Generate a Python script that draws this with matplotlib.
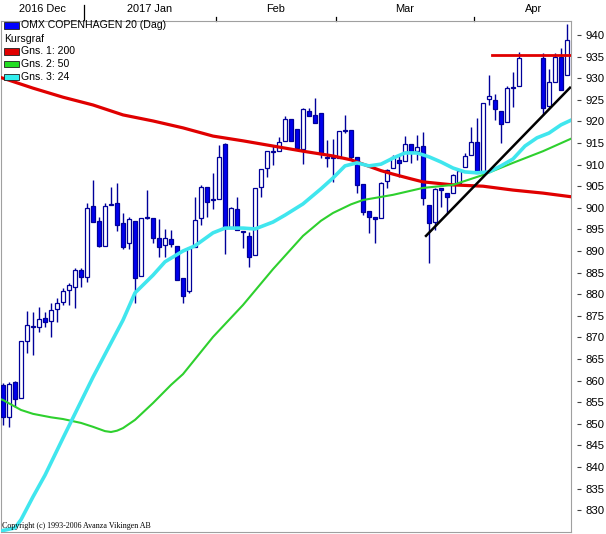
import numpy as np
import matplotlib
matplotlib.use("Agg")
import matplotlib.pyplot as plt
from matplotlib.patches import Rectangle
from matplotlib.lines import Line2D
import matplotlib.transforms as mtransforms

# daily candles, one slot per weekday; None = exchange closed (Easter)
opens = [859.0, 851.6, 859.7, 856.0, 869.2, 872.4, 872.4, 874.5, 873.8, 876.6,
         878.2, 881.0, 881.7, 885.6, 884.0, 900.4, 896.9, 891.2, 900.6, 901.1,
         896.5, 891.9, 896.9, 884.2, 897.6, 897.6, 893.0, 891.4, 892.8, 891.2,
         883.8, 880.7, 890.9, 897.6, 904.8, 901.8, 902.0, 914.8, 895.6, 899.7,
         894.4, 893.5, 889.1, 904.8, 909.2, 912.9, 913.1, 915.5, 920.6, 918.2,
         913.6, 922.4, 921.5, 922.0, 911.5, 911.5, 911.5, 917.7, 918.0, 911.8,
         905.5, 899.3, 897.9, 897.6, 906.2, 909.2, 911.1, 910.8, 914.8, 913.1,
         914.3, 900.6, 896.7, 904.6, 903.4, 903.4, 905.8, 909.4, 912.2, 915.2,
         908.1, 925.2, 925.0, 922.4, 919.9, 927.7, 928.2, None, None, None,
         934.7, 923.6, 929.1, 934.9, 930.7]
highs = [859.4, 859.7, 859.9, 869.2, 876.1, 875.9, 877.0, 875.9, 878.0, 879.1,
         881.4, 882.6, 886.1, 886.1, 901.1, 906.4, 897.9, 901.1, 904.8, 905.7,
         898.8, 897.9, 896.9, 897.6, 904.1, 897.6, 897.4, 895.1, 894.9, 891.2,
         883.8, 890.9, 902.5, 905.3, 904.8, 908.1, 914.5, 915.0, 900.2, 902.5,
         894.6, 894.4, 904.6, 909.0, 913.1, 914.5, 916.4, 921.3, 920.6, 918.2,
         923.1, 923.1, 925.4, 922.0, 915.7, 916.0, 917.8, 921.5, 918.0, 911.8,
         905.5, 899.3, 897.9, 906.0, 909.0, 912.2, 912.2, 916.6, 914.8, 916.9,
         917.5, 900.6, 904.6, 904.6, 903.4, 907.8, 908.8, 912.7, 918.7, 920.8,
         924.3, 930.7, 926.3, 922.4, 928.2, 931.4, 936.1, None, None, None,
         935.8, 932.1, 935.8, 937.0, 942.5]
lows = [849.7, 849.3, 853.9, 856.0, 866.4, 865.9, 871.2, 872.4, 870.1, 873.6,
        877.5, 877.5, 876.8, 881.7, 882.8, 896.7, 890.9, 891.2, 900.6, 894.6,
        890.5, 890.5, 878.0, 884.2, 897.4, 891.9, 888.6, 888.6, 890.9, 883.3,
        878.0, 880.3, 890.9, 896.0, 897.9, 899.7, 902.0, 889.3, 895.6, 894.9,
        890.7, 886.3, 889.1, 902.5, 907.1, 909.9, 913.1, 915.5, 915.5, 913.4,
        910.1, 921.3, 919.6, 911.5, 909.4, 906.0, 911.5, 917.3, 911.1, 903.4,
        898.3, 894.2, 891.9, 897.6, 904.6, 909.2, 907.1, 910.8, 910.4, 911.1,
        900.6, 887.2, 894.9, 900.2, 898.8, 903.4, 905.6, 909.4, 912.2, 908.1,
        908.1, 923.8, 920.3, 915.0, 919.9, 923.3, 928.2, None, None, None,
        921.5, 923.3, 929.1, 927.3, 930.7]
closes = [851.6, 859.2, 855.7, 869.2, 872.9, 872.6, 874.3, 873.6, 876.3, 878.0,
          880.7, 882.1, 885.6, 884.0, 900.0, 896.7, 891.2, 900.4, 900.9, 896.0,
          890.9, 897.4, 883.8, 897.6, 897.9, 893.0, 890.9, 893.0, 891.6, 883.3,
          879.6, 890.7, 897.2, 904.8, 901.3, 902.0, 911.8, 895.3, 900.0, 894.9,
          894.6, 888.6, 904.6, 909.0, 913.1, 913.1, 915.2, 920.6, 915.5, 913.8,
          922.9, 921.3, 919.6, 912.5, 911.7, 911.7, 917.8, 918.0, 911.8, 905.3,
          899.0, 897.9, 897.4, 905.7, 908.8, 911.8, 910.4, 914.8, 912.9, 914.1,
          902.3, 896.5, 904.4, 904.1, 902.5, 907.6, 908.6, 912.0, 915.2, 908.1,
          924.3, 925.9, 922.9, 919.4, 927.7, 928.0, 934.7, None, None, None,
          923.1, 929.1, 934.9, 927.3, 938.8]

ma200_x = [-1, 0, 5, 10, 15, 20, 25, 30, 35, 40, 45, 50, 55, 58, 60, 63, 65,
           68, 70, 75, 80, 85, 90, 95]
ma200_y = [930.4, 930.0, 927.7, 925.6, 923.8, 921.5, 920.1, 918.5, 916.6, 915.5,
           914.3, 913.1, 912.0, 911.1, 910.1, 908.6, 907.8, 906.7, 906.0, 905.3,
           905.0, 904.1, 903.4, 902.5]
ma50_x = [-1, 0, 3, 5, 8, 10, 13, 15, 16, 17, 18, 19, 20, 22, 25, 28, 30, 35,
          40, 45, 50, 53, 55, 58, 60, 65, 70, 75, 80, 85, 90, 95]
ma50_y = [856.0, 855.5, 853.2, 852.3, 851.5, 851.1, 850.2, 849.3, 848.8, 848.3,
          848.1, 848.4, 849.0, 850.9, 854.8, 859.0, 861.5, 870.1, 877.5, 885.8,
          893.5, 897.0, 898.8, 900.8, 901.8, 903.0, 904.6, 905.3, 907.6, 910.4,
          913.1, 916.2]
ma24_x = [-1, 0, 2, 3, 5, 7, 10, 15, 20, 22, 25, 27, 30, 32, 35, 37, 40, 42,
          45, 47, 50, 53, 55, 57, 59, 61, 63, 65, 67, 69, 71, 73, 75, 77, 79,
          81, 83, 85, 87, 89, 91, 93, 95]
ma24_y = [824.5, 825.3, 825.9, 827.8, 833.1, 838.1, 846.7, 860.8, 874.0, 880.3,
          884.4, 887.5, 890.0, 891.2, 894.2, 895.3, 895.3, 895.1, 896.7, 898.3,
          900.9, 904.4, 906.9, 909.7, 910.4, 909.7, 910.1, 911.5, 912.7, 912.7,
          911.8, 910.6, 909.2, 908.3, 908.1, 908.3, 909.7, 911.3, 914.3, 916.2,
          917.3, 919.2, 920.5]

# drawn lines: support trend and resistance
trend_x = [70.5, 94.5]
trend_y = [893.5, 927.8]
resist_x = [81.5, 94.5]
resist_y = [935.4, 935.4]

month_names = ["2016 Dec", "2017 Jan", "Feb", "Mar", "Apr"]
month_edges = [-0.5, 13.5, 35.5, 55.5, 78.5, 98.5]
yticks = list(range(830, 945, 5))

W, H = 606, 534
fig = plt.figure(figsize=(W / 100, H / 100), dpi=100)
ax = fig.add_axes([1 / W, 2 / H, 570 / W, 511 / H])

edge = "#000099"
fill = "#0000ee"
for i in range(len(opens)):
    o, h, l, c = opens[i], highs[i], lows[i], closes[i]
    if o is None:
        continue
    ax.vlines(i, l, h, color=edge, lw=1.0, zorder=2)
    face = fill if c < o else "white"
    ax.bar(i, abs(c - o), bottom=min(o, c), width=0.72, color=face,
           edgecolor=edge, linewidth=0.9, zorder=3)

ax.plot(ma200_x, ma200_y, color="#e00000", lw=2.3, zorder=4,
        solid_joinstyle="round")
ax.plot(ma50_x, ma50_y, color="#2ed02e", lw=1.5, zorder=4,
        solid_joinstyle="round")
ax.plot(ma24_x, ma24_y, color="#40e6ee", lw=2.6, zorder=4,
        solid_joinstyle="round")
ax.plot(resist_x, resist_y, color="#e00000", lw=2.0, zorder=5)
ax.plot(trend_x, trend_y, color="black", lw=1.8, zorder=6)

ax.set_xlim(-1 / 3, 94 + 2 / 3)
ax.set_ylim(824.95, 943.24)
ax.set_xticks([])

gray = "#a0a0a0"
for s in ["left", "bottom", "top"]:
    ax.spines[s].set_color(gray)
    ax.spines[s].set_linewidth(0.8)
ax.spines["right"].set_position(("outward", 4.3))
ax.spines["right"].set_visible(False)
ax.add_line(Line2D([1, 1], [0, 1], transform=ax.transAxes, color=gray,
                   lw=0.8, clip_on=False))
ax.yaxis.tick_right()
ax.set_yticks(yticks)
ax.tick_params(axis="y", length=3, width=0.8, color="#404040", pad=2.8,
               labelsize=8.2)
for lab in ax.get_yticklabels():
    lab.set_fontfamily("Liberation Sans")

# month strip above the plot
blend = mtransforms.blended_transform_factory(ax.transData, ax.transAxes)
for k, b in enumerate(month_edges[1:5]):
    top = 1 + (16 if k == 0 else 4) / 511
    ax.add_line(Line2D([b, b], [1, top], transform=blend, color="black",
                       lw=0.9, clip_on=False))
for k, name in enumerate(month_names):
    cx = (month_edges[k] + month_edges[k + 1]) / 2
    ax.text(cx, 1 + 12.5 / 511, name, transform=blend, ha="center", va="center",
            fontsize=7.9, family="Liberation Sans", clip_on=False)


def fx(x):
    return x / W


def fy(y):
    return 1 - y / H


legend = [("OMX COPENHAGEN 20 (Dag)", "#0000ff", 25.5),
          ("Kursgraf", None, 39),
          ("Gns. 1: 200", "#e00000", 51.5),
          ("Gns. 2: 50", "#22dd22", 64),
          ("Gns. 3: 24", "#33eeee", 77)]
for label, col, yy in legend:
    if col is None:
        fig.text(fx(4), fy(yy), label, ha="left", va="center", fontsize=7.6,
                 family="Liberation Sans", zorder=10)
        continue
    fig.add_artist(Rectangle((fx(4), fy(yy + 3)), 15 / W, 6 / H,
                             facecolor=col, edgecolor="#202020", lw=0.6,
                             transform=fig.transFigure, zorder=10))
    fig.text(fx(21), fy(yy), label, ha="left", va="center", fontsize=7.6,
             family="Liberation Sans", zorder=10)

fig.text(fx(2), fy(526), "Copyright (c) 1993-2006 Avanza Vikingen AB",
         ha="left", va="center", fontsize=5.8, family="Liberation Serif",
         zorder=10)

fig.savefig("out.png", dpi=100)
